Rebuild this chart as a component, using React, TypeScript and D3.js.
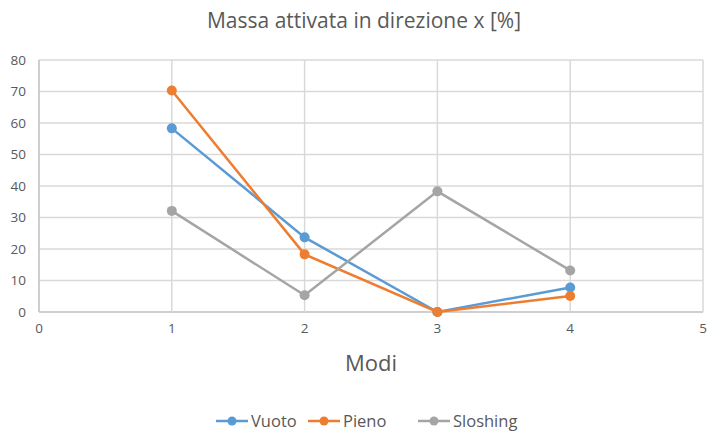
import React from "react";
import * as d3 from "d3";

const modes = [1, 2, 3, 4];
const vuoto = [58.3, 23.7, 0, 7.8];
const pieno = [70.3, 18.3, 0, 5.1];
const sloshing = [32.1, 5.3, 38.3, 13.2];
const seriesNames = ["Vuoto", "Pieno", "Sloshing"];
const seriesColors = ["#5B9BD5", "#ED7D31", "#A5A5A5"];
const xTicks = [0, 1, 2, 3, 4, 5];
const yTicks = [0, 10, 20, 30, 40, 50, 60, 70, 80];

const W = 718, H = 440;
const FONT = "'Open Sans', 'Noto Sans', sans-serif";

export default function App() {
  const x = d3.scaleLinear().domain([0, 5]).range([39, 703]);
  const y = d3.scaleLinear().domain([0, 80]).range([312, 60]);
  const data = [vuoto, pieno, sloshing];
  const line = d3.line<number>().x((_, i) => x(modes[i])).y((d) => y(d));
  const legendX = [216, 308, 418];
  return (
    <svg width={W} height={H} style={{ position: "absolute", left: 0, top: 0, background: "#fff" }} fontFamily={FONT}>
      <rect width={W} height={H} fill="#fff" />
      <text x={364} y={28} textAnchor="middle" fontSize={21} fill="#595959">Massa attivata in direzione x [%]</text>
      {yTicks.map((t) => (
        <g key={"y" + t}>
          <line x1={x(0)} x2={x(5)} y1={y(t)} y2={y(t)} stroke={t === 0 ? "#BFBFBF" : "#D9D9D9"} strokeWidth={1.5} />
          <text x={26} y={y(t)} dy="0.35em" textAnchor="end" fontSize={13.5} fill="#595959">{t}</text>
        </g>
      ))}
      {xTicks.map((t) => (
        <g key={"x" + t}>
          <line x1={x(t)} x2={x(t)} y1={y(0)} y2={y(80)} stroke={t === 0 ? "#BFBFBF" : "#D9D9D9"} strokeWidth={1.5} />
          <text x={x(t)} y={333} textAnchor="middle" fontSize={13.5} fill="#595959">{t}</text>
        </g>
      ))}
      <text x={371} y={371} textAnchor="middle" fontSize={22} fill="#595959">Modi</text>
      {data.map((s, si) => (
        <g key={"s" + si}>
          <path d={line(s) || ""} fill="none" stroke={seriesColors[si]} strokeWidth={2.5} />
          {s.map((v, i) => (
            <circle key={i} cx={x(modes[i])} cy={y(v)} r={5} fill={seriesColors[si]} />
          ))}
        </g>
      ))}
      {seriesNames.map((n, i) => (
        <g key={"l" + i}>
          <line x1={legendX[i]} x2={legendX[i] + 32} y1={421} y2={421} stroke={seriesColors[i]} strokeWidth={2.5} />
          <circle cx={legendX[i] + 16} cy={421} r={4.5} fill={seriesColors[i]} />
          <text x={legendX[i] + 35} y={421} dy="0.35em" fontSize={16.5} fill="#595959">{n}</text>
        </g>
      ))}
    </svg>
  );
}
